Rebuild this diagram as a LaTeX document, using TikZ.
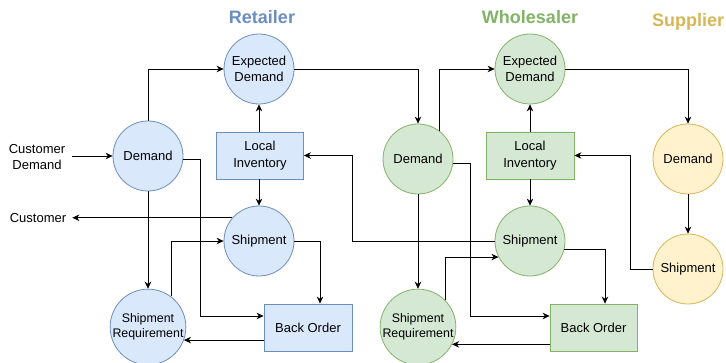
\documentclass[tikz,border=0pt]{standalone}
\usepackage{fontspec}
\setmainfont{Liberation Sans}
\usetikzlibrary{arrows.meta}
\definecolor{bfill}{HTML}{DAE8FC}\definecolor{bline}{HTML}{6C8EBF}
\definecolor{gfill}{HTML}{D5E8D4}\definecolor{gline}{HTML}{82B366}
\definecolor{yfill}{HTML}{FFF2CC}\definecolor{yline}{HTML}{D6B656}
\tikzset{
  lbl/.style={font=\fontsize{13}{16.5}\selectfont, align=center, inner sep=0pt},
  circ/.style={circle, draw, line width=0.8pt, minimum size=70pt, inner sep=0pt, lbl},
  sbox/.style={rectangle, draw, line width=0.8pt, minimum width=87pt, minimum height=47pt, inner sep=0pt, lbl},
  bc/.style={circ, fill=bfill, draw=bline},
  gc/.style={circ, fill=gfill, draw=gline},
  yc/.style={circ, fill=yfill, draw=yline},
  bb/.style={sbox, fill=bfill, draw=bline},
  gb/.style={sbox, fill=gfill, draw=gline},
  small/.style={font=\fontsize{12.4}{15.5}\selectfont},
  ttl/.style={font=\fontsize{18}{20}\selectfont\bfseries, inner sep=0pt},
  arr/.style={draw=black, line width=0.8pt, -{Stealth[length=7pt,width=6.5pt,inset=2.2pt]}},
}
\begin{document}
\begin{tikzpicture}[x=1pt,y=-1pt]
\useasboundingbox[fill=white] (0,0) rectangle (726,363);
% titles
\node[ttl, text=bline] (tR) at (262,17) {Retailer};
\node[ttl, text=gline] (tW) at (530,17) {Wholesaler};
\node[ttl, text=yline] (tS) at (688,22) {Supplier};
% retailer
\node[bc] (rED) at (259,69) {Expected\\Demand};
\node[bc] (rD) at (148,156) {Demand};
\node[bb] (rLI) at (260,155.5) {Local\\Inventory};
\node[bc] (rS) at (259,241) {Shipment};
\node[bc, small] (rSR) at (148,327) {Shipment\\Requirement};
\node[bb, minimum width=88pt] (rBO) at (308,327.5) {Back Order};
\node[lbl] (cd) at (37,157) {Customer\\Demand};
\node[lbl] (cu) at (38,218) {Customer};
% wholesaler
\node[gc] (wED) at (530,69) {Expected\\Demand};
\node[gc] (wD) at (418,159) {Demand};
\node[gb, minimum width=88pt] (wLI) at (530,155.5) {Local\\Inventory};
\node[gc] (wS) at (530,241) {Shipment};
\node[gc, small] (wSR) at (418,327) {Shipment\\Requirement};
\node[gb] (wBO) at (593.5,327.5) {Back Order};
% supplier
\node[yc] (sD) at (688,159) {Demand};
\node[yc] (sS) at (688,269) {Shipment};
% retailer connectors
\draw[arr] ([xshift=7pt]cd.east |- rD.west) -- (rD.west);
\draw[arr] (rD.north) |- (rED.west);
\draw[arr] (rED.east) -| (wD.north);
\draw[arr] (rLI.north -| rED.south) -- (rED.south);
\draw[arr] (rLI.south -| rS.north) -- (rS.north);
\draw[arr] (rS.139) -- ([xshift=6pt]cu.east |- rS.139);
\draw[arr] (rD.south) -- (rSR.north);
\draw[arr] (rD.-5) -- ++(17,0) |- ([yshift=11.5pt]rBO.west);
\draw[arr] (rS.east) -| ([xshift=12pt]rBO.north);
\draw[arr] (rBO.west |- rSR.-20) -- (rSR.-20);
\draw[arr] (rSR.53) |- (rS.west);
\draw[arr] (wS.west) -| ([xshift=48pt]rLI.east) -- (rLI.east);
% wholesaler connectors
\draw[arr] (wD.53) |- (wED.west);
\draw[arr] (wED.east) -| (sD.north);
\draw[arr] (wLI.north -| wED.south) -- (wED.south);
\draw[arr] (wLI.south -| wS.north) -- (wS.north);
\draw[arr] (wD.south) -- (wSR.north);
\draw[arr] (wD.-7) -- ++(17,0) |- ([yshift=11.5pt]wBO.west);
\draw[arr] (wS.-13) -| ([xshift=11.5pt]wBO.north);
\draw[arr] (wBO.west |- wSR.-27) -- (wSR.-27);
\draw[arr] (wSR.44) |- (wS.207);
% supplier connectors
\draw[arr] (sD.south) -- (sS.north);
\draw[arr] (sS.west) -| ([xshift=56pt]wLI.east) -- (wLI.east);
\end{tikzpicture}
\end{document}
